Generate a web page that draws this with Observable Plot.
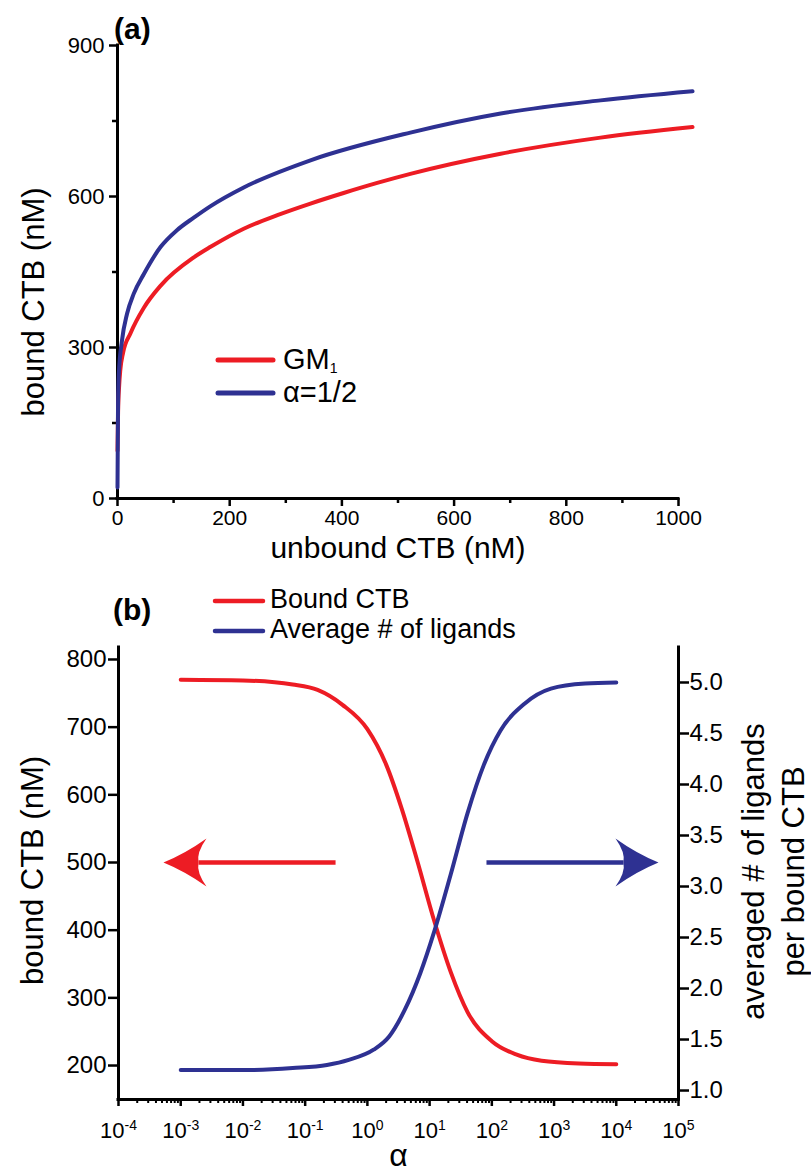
<!DOCTYPE html>
<html><head><meta charset="utf-8">
<script src="https://cdn.jsdelivr.net/npm/d3@7"></script>
<script src="https://cdn.jsdelivr.net/npm/@observablehq/plot@0.6"></script>
<style>
html,body{margin:0;padding:0;background:#fff;overflow:hidden;}
#wrap{position:relative;width:811px;height:1173px;}
#wrap svg{position:absolute;left:0;}
</style></head><body><div id="wrap"></div>
<script>
// ---------- Panel (a) data ----------
const unboundGM1 = [0, 1, 3, 5, 10, 23, 47, 77, 136, 166, 225, 285, 344, 403, 463, 522, 683, 861, 1025];
const boundGM1   = [95, 170, 225, 255, 290, 328, 379, 423, 479, 500, 536, 563, 586, 607, 627, 645, 685, 717, 738];
const unboundHalf = [0, 0.5, 1, 2.4, 8, 17, 29, 47, 77, 106, 136, 166, 225, 344, 522, 683, 861, 1025];
const boundHalf   = [22, 110, 190, 248, 314, 367, 407, 446, 500, 533, 558, 581, 618, 672, 727, 765, 791, 809];
const xTicksA = [0, 200, 400, 600, 800, 1000];
const xMinorA = [100, 300, 500, 700, 900];
const yTicksA = [0, 300, 600, 900];
const yMinorA = [150, 450, 750];
const legendA = [{label: "GM", sub: "1", color: "#ED1C24"}, {label: "α=1/2", sub: "", color: "#2E3192"}];

// ---------- Panel (b) data ----------
const log10AlphaBound = [-3.0, -2.0, -1.2, -0.8, -0.4, 0.0, 0.3, 0.55, 0.8, 1.07, 1.34, 1.61, 2.0, 2.4, 2.8, 3.4, 4.0];
const boundCTB        = [770, 769, 763, 755, 733, 697, 645, 580, 503, 415, 338, 279, 236, 216, 207, 203, 202];
const log10AlphaLig = [-3.0, -2.0, -1.2, -0.65, -0.3, 0.1, 0.35, 0.6, 0.85, 1.07, 1.34, 1.61, 1.87, 2.14, 2.52, 2.95, 3.5, 4.0];
const avgLigands    = [1.20, 1.20, 1.22, 1.25, 1.30, 1.40, 1.53, 1.79, 2.15, 2.55, 3.12, 3.72, 4.19, 4.53, 4.79, 4.94, 4.99, 5.00];
const xExponentsB = ["-4", "-3", "-2", "-1", "0", "1", "2", "3", "4", "5"];
const yTicksBLeft = [200, 300, 400, 500, 600, 700, 800];
const yTicksBRight = [1.0, 1.5, 2.0, 2.5, 3.0, 3.5, 4.0, 4.5, 5.0];
const legendB = [{label: "Bound CTB", color: "#ED1C24"}, {label: "Average # of ligands", color: "#2E3192"}];
// arrows (annotation, in data units: alpha and bound CTB)
const arrowRed  = {tail: 0.308, notch: 1.93e-3, tip: 5.28e-4, y: 500};
const arrowBlue = {tail: 82, notch: 1.31e4, tip: 4.77e4, y: 500};

const RED = "#ED1C24", BLUE = "#2E3192";
const FONT = '"Liberation Sans", Arial, Helvetica, sans-serif';
const wrap = document.getElementById("wrap");

// ---------- Panel (a) ----------
const gm1 = unboundGM1.map((x, i) => ({x, y: boundGM1[i]}));
const half = unboundHalf.map((x, i) => ({x, y: boundHalf[i]}));

const plotA = Plot.plot({
  width: 811, height: 580,
  marginLeft: 117, marginRight: 133, marginTop: 45, marginBottom: 82,
  style: {fontFamily: FONT, color: "black", background: "white", overflow: "visible"},
  x: {domain: [0, 1000], label: null},
  y: {domain: [0, 900], label: null},
  marks: [
    Plot.axisX(xMinorA, {tickSize: 5, strokeWidth: 2.5, tickFormat: () => "", label: null}),
    Plot.axisX(xTicksA, {tickSize: 8, tickPadding: 4, strokeWidth: 2.5, fontSize: 21, tickFormat: d => String(d), label: null}),
    Plot.axisY(yMinorA, {tickSize: 5, strokeWidth: 2.5, tickFormat: () => "", label: null}),
    Plot.axisY(yTicksA, {tickSize: 8, tickPadding: 5, strokeWidth: 2.5, fontSize: 22, tickFormat: d => String(d), label: null}),
    Plot.ruleX([0], {strokeWidth: 3, strokeLinecap: "square"}),
    Plot.ruleY([0], {strokeWidth: 3, strokeLinecap: "square"}),
    Plot.line(gm1, {x: "x", y: "y", stroke: RED, strokeWidth: 4, curve: "monotone-x", strokeLinecap: "round"}),
    Plot.line(half, {x: "x", y: "y", stroke: BLUE, strokeWidth: 4, curve: "monotone-x", strokeLinecap: "round"}),
    Plot.text(["bound CTB (nM)"], {text: d => d, frameAnchor: "left", textAnchor: "middle", lineAnchor: "bottom", rotate: -90, dx: -74, dy: 30, fontSize: 31}),
    Plot.text(["unbound CTB (nM)"], {text: d => d, frameAnchor: "bottom", textAnchor: "middle", lineAnchor: "bottom", dy: 59, fontSize: 30})
  ]
});
plotA.style.top = "0px";
wrap.appendChild(plotA);

// ---------- Panel (b) ----------
const boundRows = log10AlphaBound.map((l, i) => ({a: 10 ** l, y: boundCTB[i]}));
const ligRows = log10AlphaLig.map((l, i) => ({a: 10 ** l, y: avgLigands[i]}));
const xMajorB = xExponentsB.map(e => 10 ** (+e));
const xMinorB = [];
for (let e = -4; e < 5; e++) for (let m = 2; m <= 9; m++) xMinorB.push(m * 10 ** e);
const yDomL = [149.8, 817.7];
const yDomR = [0.912, 5.343];

function arrowHead(dir) {
  return {
    draw(ctx, size) {
      const kv = Math.sqrt(size / Math.PI);
      const k = kv * dir;
      ctx.moveTo(0, 0);
      ctx.quadraticCurveTo(22 * k, -9 * kv, 43 * k, -24 * kv);
      ctx.quadraticCurveTo(33 * k, -10 * kv, 35 * k, 0);
      ctx.quadraticCurveTo(33 * k, 10 * kv, 43 * k, 24 * kv);
      ctx.quadraticCurveTo(22 * k, 9 * kv, 0, 0);
      ctx.closePath();
    }
  };
}

const common = {
  width: 811, height: 593,
  marginLeft: 118, marginRight: 133, marginTop: 67, marginBottom: 74
};

const plotB1 = Plot.plot({
  ...common,
  style: {fontFamily: FONT, color: "black", background: "white", overflow: "visible"},
  x: {type: "log", domain: [1e-4, 1e5], label: null},
  y: {domain: yDomL, label: null},
  marks: [
    Plot.axisX(xMinorB, {tickSize: 4, strokeWidth: 2, tickFormat: () => "", label: null}),
    Plot.axisX(xMajorB, {tickSize: 7, tickPadding: 16, strokeWidth: 2.5, fontSize: 22,
      tickFormat: d => "10^" + xExponentsB[xMajorB.indexOf(d)], label: null}),
    Plot.axisY(yTicksBLeft, {tickSize: 10, tickPadding: 2, strokeWidth: 2.5, fontSize: 24, tickFormat: d => String(d), label: null}),
    Plot.ruleX([1e-4], {strokeWidth: 3, strokeLinecap: "square"}),
    Plot.ruleY([yDomL[0]], {strokeWidth: 3, strokeLinecap: "square"}),
    Plot.line(boundRows, {x: "a", y: "y", stroke: RED, strokeWidth: 4, curve: "monotone-x", strokeLinecap: "round"}),
    Plot.link([arrowRed], {x1: "tail", x2: "notch", y1: "y", y2: "y", stroke: RED, strokeWidth: 4.5}),
    Plot.dot([arrowRed], {x: "tip", y: "y", r: 1, symbol: arrowHead(1), fill: RED, stroke: "none"}),
    Plot.link([arrowBlue], {x1: "tail", x2: "notch", y1: "y", y2: "y", stroke: BLUE, strokeWidth: 4.5}),
    Plot.dot([arrowBlue], {x: "tip", y: "y", r: 1, symbol: arrowHead(-1), fill: BLUE, stroke: "none"}),
    Plot.text(["bound CTB (nM)"], {text: d => d, frameAnchor: "left", textAnchor: "middle", lineAnchor: "bottom", rotate: -90, dx: -76, dy: -3, fontSize: 31}),
    Plot.text(["α"], {text: d => d, frameAnchor: "bottom", textAnchor: "middle", lineAnchor: "bottom", dy: 66, fontSize: 32})
  ]
});
plotB1.style.top = "580px";
// superscripts for the decade labels
d3.select(plotB1).selectAll('g[aria-label="x-axis tick label"] text').each(function() {
  const t = this.textContent;
  if (!t.includes("^")) return;
  const [base, exp] = t.split("^");
  this.textContent = "";
  d3.select(this).append("tspan").text(base);
  d3.select(this).append("tspan").attr("dy", "-0.55em").attr("font-size", "14px").text(exp);
});
wrap.appendChild(plotB1);

const plotB2 = Plot.plot({
  ...common,
  style: {fontFamily: FONT, color: "black", background: "transparent", overflow: "visible"},
  x: {type: "log", domain: [1e-4, 1e5], axis: null, label: null},
  y: {domain: yDomR, label: null},
  marks: [
    Plot.axisY(yTicksBRight, {anchor: "right", tickSize: 10, tickPadding: 1, strokeWidth: 2.5, fontSize: 24, tickFormat: ".1f", label: null}),
    Plot.ruleX([1e5], {strokeWidth: 3, strokeLinecap: "square"}),
    Plot.line(ligRows, {x: "a", y: "y", stroke: BLUE, strokeWidth: 4, curve: "monotone-x", strokeLinecap: "round"}),
    Plot.text(["averaged # of ligands"], {text: d => d, frameAnchor: "right", textAnchor: "middle", lineAnchor: "bottom", rotate: -90, dx: 85, dy: -2, fontSize: 31}),
    Plot.text(["per bound CTB"], {text: d => d, frameAnchor: "right", textAnchor: "middle", lineAnchor: "bottom", rotate: -90, dx: 125, dy: -2, fontSize: 31})
  ]
});
plotB2.style.top = "580px";
wrap.appendChild(plotB2);

// ---------- Panel labels and legends ----------
const svg = d3.select(wrap).append("svg")
  .attr("width", 811).attr("height", 1173)
  .style("top", "0px").style("pointer-events", "none")
  .attr("font-family", FONT);

svg.append("text").attr("x", 114).attr("y", 39).attr("font-weight", "bold").attr("font-size", 30).text("(a)");
svg.append("text").attr("x", 113).attr("y", 620).attr("font-weight", "bold").attr("font-size", 30).text("(b)");

legendA.forEach((d, i) => {
  const yl = 360 + i * 33;
  svg.append("line").attr("x1", 218).attr("x2", 273).attr("y1", yl).attr("y2", yl)
    .attr("stroke", d.color).attr("stroke-width", 5).attr("stroke-linecap", "round");
  const t = svg.append("text").attr("x", 283).attr("y", yl + 9).attr("font-size", 29).text(d.label);
  if (d.sub) t.append("tspan").attr("dy", 4).attr("font-size", 14).text(d.sub);
});

legendB.forEach((d, i) => {
  const yl = 601 + i * 30;
  svg.append("line").attr("x1", 215).attr("x2", 263).attr("y1", yl).attr("y2", yl)
    .attr("stroke", d.color).attr("stroke-width", 4.5).attr("stroke-linecap", "round");
  svg.append("text").attr("x", 270).attr("y", yl + 7).attr("font-size", 27).text(d.label);
});
</script>
</body></html>
